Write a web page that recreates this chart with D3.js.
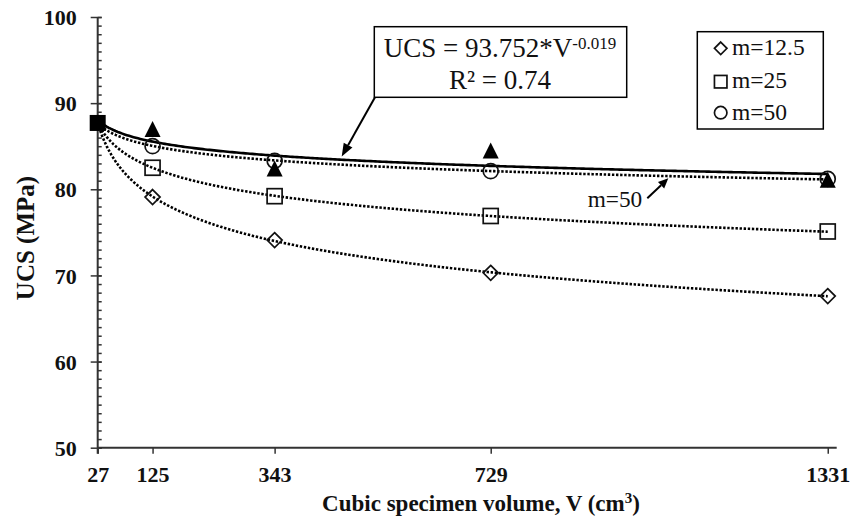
<!DOCTYPE html>
<html>
<head>
<meta charset="utf-8">
<script src="https://cdn.jsdelivr.net/npm/d3@7"></script>
<style>
  html, body { margin: 0; padding: 0; background: #fff; }
  svg { display: block; }
  svg text { font-family: "Liberation Serif", "Times New Roman", Times, "DejaVu Serif", serif; }
</style>
</head>
<body>
<svg id="chart" width="863" height="522"></svg>
<script>
// ---- data ----
const volumes = [27, 125, 343, 729, 1331];
const ucsTest = [87.7, 87.0, 82.4, 84.5, 81.1];   // filled triangles
const ucsM12 = [87.7, 79.1, 74.1, 70.3, 67.6];    // m=12.5
const ucsM25 = [87.7, 82.5, 79.2, 76.9, 75.1];    // m=25
const ucsM50 = [87.7, 85.0, 83.3, 82.1, 81.2];    // m=50
const seriesNames = ["m=12.5", "m=25", "m=50"];
const xTicks = [27, 125, 343, 729, 1331];
const yTicks = [50, 60, 70, 80, 90, 100];
const fitA = 93.752, fitB = -0.019, fitR2 = 0.74;

const svg = d3.select("#chart");
const ink = "#111";

const x = d3.scaleLinear().domain([27, 1347]).range([97.7, 836.7]);
const y = d3.scaleLinear().domain([50, 100]).range([447.7, 17]);

// ---- axes ----
const axisCol = "#333";
const xAxis = d3.axisBottom(x).tickValues(xTicks).tickSize(6).tickFormat(d3.format("d"));
const gx = svg.append("g").attr("transform", `translate(0,${y(50)})`).call(xAxis);
gx.attr("font-family", null);
gx.select(".domain").attr("stroke", axisCol).attr("stroke-width", 2).attr("d", `M${x(27)},0H${x(1347)}`);
gx.selectAll(".tick line").attr("stroke", axisCol).attr("stroke-width", 1.5);
gx.selectAll(".tick text").attr("font-weight", "bold")
  .attr("font-size", 22).attr("fill", ink).attr("y", 0).attr("dy", 0)
  .attr("transform", "translate(0,34)");

const gy = svg.append("g").attr("transform", `translate(${x(27)},0)`);
const yMinor = d3.range(50, 100.01, 1);
gy.append("g").call(d3.axisRight(y).tickValues(yMinor).tickSize(4).tickFormat(""))
  .call(g => g.select(".domain").remove())
  .call(g => g.selectAll(".tick line").attr("stroke", axisCol).attr("stroke-width", 1.5));
const yMajor = gy.append("g").call(d3.axisLeft(y).tickValues(yTicks).tickSize(7).tickFormat(d3.format("d")));
yMajor.attr("font-family", null);
yMajor.select(".domain").attr("stroke", axisCol).attr("stroke-width", 2).attr("d", `M0,${y(100)}V${y(50) + 6}`);
yMajor.selectAll(".tick line").attr("stroke", axisCol).attr("stroke-width", 1.5).attr("x2", 4).attr("x1", -7);
yMajor.selectAll(".tick text").attr("font-weight", "bold")
  .attr("font-size", 22).attr("fill", ink).attr("x", -21).attr("dy", "0.35em");

// axis titles
const xt = svg.append("text").attr("x", 481).attr("y", 510.5).attr("text-anchor", "middle")
  .attr("font-weight", "bold").attr("font-size", 23).attr("fill", ink);
xt.append("tspan").text("Cubic specimen volume, V (cm");
xt.append("tspan").attr("font-size", 15).attr("dy", -8).text("3");
xt.append("tspan").attr("dy", 8).text(")");

svg.append("text").attr("transform", `translate(33.5,238) rotate(-90)`).attr("text-anchor", "middle")
  .attr("font-weight", "bold").attr("font-size", 25).attr("fill", ink)
  .text("UCS (MPa)");

// ---- power-law fits of series (log-log regression) ----
function powerFit(xs, ys) {
  const lx = xs.map(Math.log), ly = ys.map(Math.log);
  const mx = d3.mean(lx), my = d3.mean(ly);
  const b = d3.sum(lx.map((v, i) => (v - mx) * (ly[i] - my))) / d3.sum(lx.map(v => (v - mx) ** 2));
  const a = Math.exp(my - b * mx);
  return v => a * Math.pow(v, b);
}
const curveV = d3.range(27, 1331.01, 4).concat([1331]);
const lineGen = f => d3.line().x(v => x(v)).y(v => y(f(v)))(curveV);

const mSeries = [ucsM12, ucsM25, ucsM50];
mSeries.forEach(s => {
  const f = powerFit(volumes, s);
  svg.append("path").attr("d", lineGen(f)).attr("fill", "none")
    .attr("stroke", "#000").attr("stroke-width", 2.6).attr("stroke-dasharray", "2.4,1.7");
});

svg.append("path").attr("d", lineGen(v => fitA * Math.pow(v, fitB))).attr("fill", "none")
  .attr("stroke", "#000").attr("stroke-width", 2.6);

// ---- markers ----
function marker(g, type, cx, cy, s) {
  const h = s / 2;
  if (type === "diamond") {
    g.append("path").attr("d", `M${cx},${cy - h}L${cx + h},${cy}L${cx},${cy + h}L${cx - h},${cy}Z`)
      .attr("fill", "none").attr("stroke", ink).attr("stroke-width", 1.7);
  } else if (type === "square") {
    g.append("rect").attr("x", cx - h).attr("y", cy - h).attr("width", s).attr("height", s)
      .attr("fill", "none").attr("stroke", ink).attr("stroke-width", 1.7);
  } else if (type === "circle") {
    g.append("circle").attr("cx", cx).attr("cy", cy).attr("r", h)
      .attr("fill", "none").attr("stroke", ink).attr("stroke-width", 1.7);
  } else if (type === "triangle") {
    g.append("path").attr("d", `M${cx},${cy - h}L${cx + h},${cy + h}L${cx - h},${cy + h}Z`)
      .attr("fill", "#000");
  } else if (type === "fsquare") {
    g.append("rect").attr("x", cx - h).attr("y", cy - h).attr("width", s).attr("height", s)
      .attr("fill", "#000");
  }
}
const types = ["diamond", "square", "circle"];
const gm = svg.append("g");
mSeries.forEach((s, k) => {
  volumes.forEach((v, i) => { if (i > 0) marker(gm, types[k], x(v), y(s[i]), 15); });
});
volumes.forEach((v, i) => { if (i > 0) marker(gm, "triangle", x(v), y(ucsTest[i]), 16); });
marker(gm, "fsquare", x(volumes[0]), y(ucsTest[0]), 16);

// ---- equation box + arrow ----
function arrow(x1, y1, x2, y2, len, wid) {
  const ang = Math.atan2(y2 - y1, x2 - x1);
  const bx = x2 - len * Math.cos(ang), by = y2 - len * Math.sin(ang);
  svg.append("line").attr("x1", x1).attr("y1", y1).attr("x2", bx).attr("y2", by)
    .attr("stroke", "#000").attr("stroke-width", 2);
  const px = -Math.sin(ang) * wid / 2, py = Math.cos(ang) * wid / 2;
  svg.append("path").attr("d", `M${x2},${y2}L${bx + px},${by + py}L${bx - px},${by - py}Z`).attr("fill", "#000");
}
arrow(375, 97.3, 341.7, 156.5, 13, 10);
svg.append("rect").attr("x", 374.3).attr("y", 26.7).attr("width", 252.4).attr("height", 70.6)
  .attr("fill", "#fff").attr("stroke", "#000").attr("stroke-width", 1.5);
const eq = svg.append("text").attr("x", 500).attr("y", 56.7).attr("text-anchor", "middle")
  .attr("font-size", 27).attr("fill", ink);
eq.append("tspan").text(`UCS = ${fitA}*V`);
eq.append("tspan").attr("font-size", 17).attr("dy", -7.5).text(`-${Math.abs(fitB).toFixed(3)}`);
svg.append("text").attr("x", 500).attr("y", 89.3).attr("text-anchor", "middle")
  .attr("font-size", 27).attr("fill", ink).text(`R² = ${fitR2}`);

// m=50 annotation
svg.append("text").attr("x", 587.7).attr("y", 207.3)
  .attr("font-size", 23.3).attr("fill", ink).text(seriesNames[2]);
arrow(647.3, 198.3, 668.3, 178.3, 10, 9);

// ---- legend ----
svg.append("rect").attr("x", 697.3).attr("y", 31.7).attr("width", 126).attr("height", 97.3)
  .attr("fill", "#fff").attr("stroke", "#000").attr("stroke-width", 1.5);
const legY = [48.3, 81.7, 112.7];
const legBase = [55.3, 88.3, 120];
const gl = svg.append("g");
seriesNames.forEach((n, k) => {
  marker(gl, types[k], 720.7, legY[k], 12.5);
  gl.append("text").attr("x", 732).attr("y", legBase[k])
    .attr("font-size", 23.5).attr("fill", ink).text(n);
});
</script>
</body>
</html>
